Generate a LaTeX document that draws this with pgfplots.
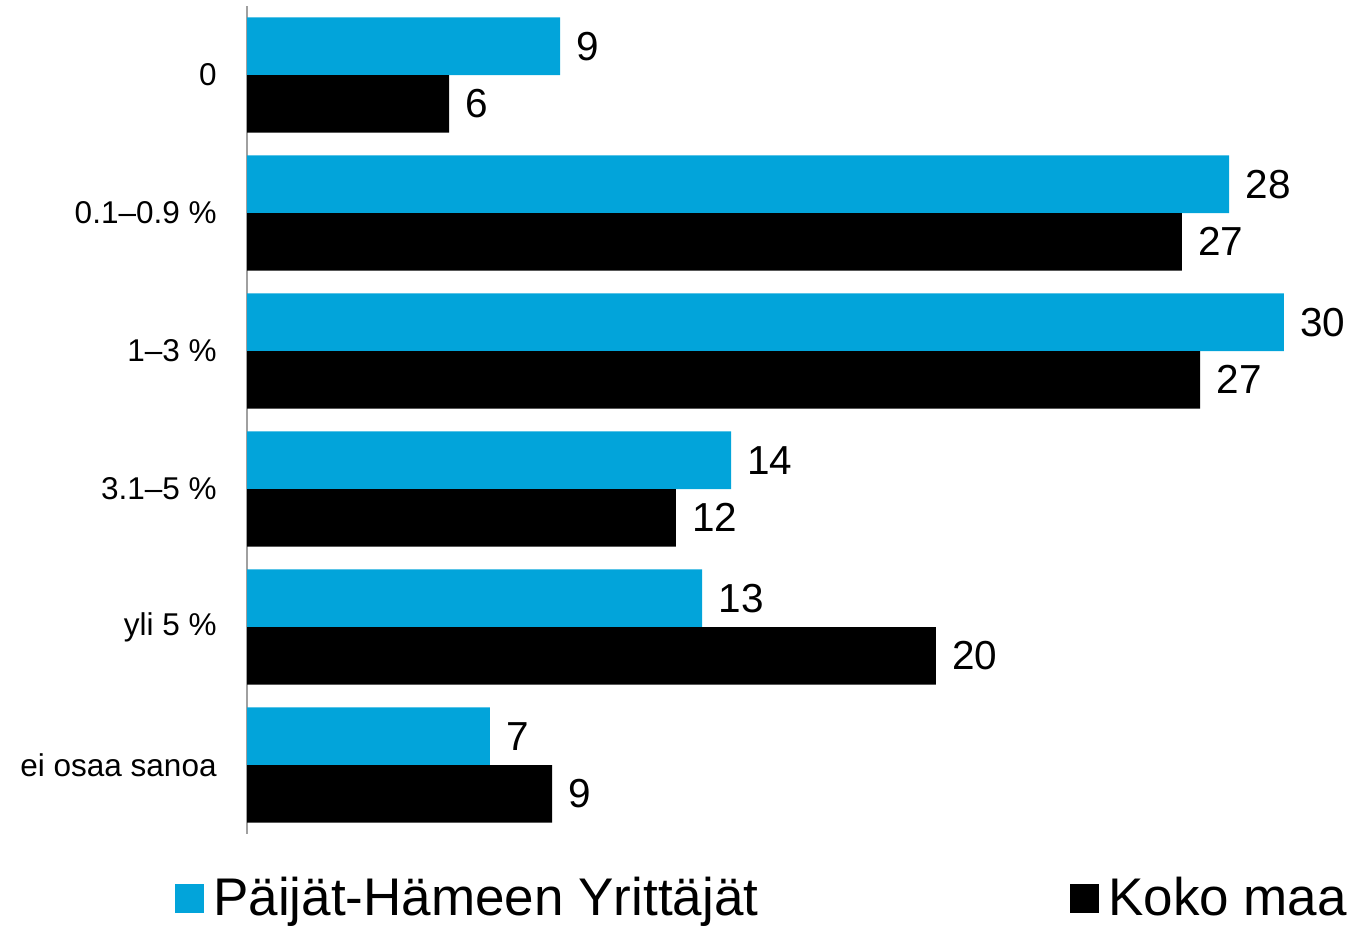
\documentclass[border=0pt]{standalone}
\usepackage{fontspec}
\setmainfont{Liberation Sans}
\usepackage{pgfplots}
\pgfplotsset{compat=1.18}
\definecolor{phblue}{HTML}{02A4DA}
\definecolor{axisgray}{HTML}{A0A0A0}

\begin{document}
\begin{tikzpicture}
\path[use as bounding box] (0pt,0pt) rectangle (676pt,463pt);
\begin{axis}[
  at={(123.5pt,46pt)}, anchor=south west,
  scale only axis, width=523.5pt, height=414pt,
  xbar, bar width=0.417,
  xmin=0, xmax=30, ymin=-0.5, ymax=5.5, y dir=reverse,
  axis x line=none,
  axis y line*=left,
  y axis line style={axisgray, line width=1pt},
  major tick length=0pt, ytick style={draw=none},
  ytick={0,1,2,3,4,5},
  yticklabels={0, {0.1–0.9 \%}, {1–3 \%}, {3.1–5 \%}, {yli 5 \%}, {ei osaa sanoa}},
  yticklabel style={font=\fontsize{15.75}{18}\selectfont, inner sep=0pt, xshift=-15pt},
  point meta=x,
  nodes near coords={\pgfmathprintnumber[fixed,precision=0,assume math mode=true]{\pgfplotspointmeta}},
  nodes near coords style={font=\fontsize{20.25}{24}\selectfont, anchor=west, inner sep=0pt, xshift=8pt},
  legend columns=2,
  legend image code/.code={\draw[#1, draw=none] (0pt,-7.25pt) rectangle (14.5pt,7.25pt);},
  legend style={draw=none, fill=none, at={(-0.0688,-0.0773)}, anchor=west,
    inner sep=0pt, nodes={inner sep=0pt}, font=\fontsize{26.5}{30}\selectfont,
    /tikz/every odd column/.append style={column sep=4.5pt},
    /tikz/every even column/.append style={column sep=156pt}},
]
\addplot[fill=phblue, draw=none, bar shift=-0.2085] coordinates
  {(8.97,0) (28.14,1) (29.71,2) (13.87,3) (13.04,4) (6.96,5)};
\addplot[fill=black, draw=none, bar shift=0.2085] coordinates
  {(5.79,0) (26.79,1) (27.31,2) (12.29,3) (19.74,4) (8.74,5)};
\legend{Päijät-Hämeen Yrittäjät, Koko maa}
\end{axis}
\end{tikzpicture}
\end{document}
